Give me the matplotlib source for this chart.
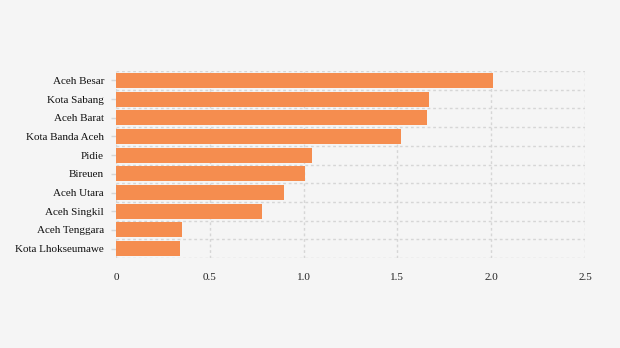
import matplotlib
matplotlib.use("Agg")
import matplotlib.pyplot as plt
import numpy as np

categories = ["Aceh Besar", "Kota Sabang", "Aceh Barat", "Kota Banda Aceh", "Pidie",
              "Bireuen", "Aceh Utara", "Aceh Singkil", "Aceh Tenggara", "Kota Lhokseumawe"]
values = [2.01, 1.67, 1.66, 1.52, 1.045, 1.01, 0.895, 0.78, 0.35, 0.34]
xticks = [0, 0.5, 1.0, 1.5, 2.0, 2.5]
xticklabels = ["0", "0.5", "1.0", "1.5", "2.0", "2.5"]

plt.rcParams['font.family'] = ['Liberation Serif', 'DejaVu Serif']

fig = plt.figure(figsize=(6.2, 3.48), dpi=100)
fig.patch.set_facecolor('#f5f5f5')
ax = fig.add_axes([116/620, 1-258/348, (585-116)/620, (258-71)/348])
ax.set_facecolor('#f5f5f5')

y = np.arange(len(categories))
ax.barh(y, values, height=0.8, color='#f58d4f', zorder=3)

ax.set_xlim(0, 2.5)
ax.set_ylim(len(categories) - 0.5, -0.5)
ax.set_yticks(y)
ax.set_yticklabels(categories, fontsize=8, color='#111111')
ax.set_yticks(np.arange(-0.5, len(categories), 1.0), minor=True)
ax.set_xticks(xticks)
ax.set_xticklabels(xticklabels, fontsize=8, color='#222222')

ax.tick_params(axis='y', which='major', length=3.6, width=1, color='#d6d6d6', pad=5)
ax.tick_params(axis='y', which='minor', length=0)
ax.tick_params(axis='x', length=0, pad=10.5)

ax.grid(axis='x', which='major', color='#d6d6d6', linestyle=(0, (2, 2)), linewidth=1, zorder=0)
ax.grid(axis='y', which='minor', color='#d6d6d6', linestyle=(0, (2, 2)), linewidth=1, zorder=0)
for s in ax.spines.values():
    s.set_visible(False)

fig.savefig('out.png', dpi=100, facecolor=fig.get_facecolor())
